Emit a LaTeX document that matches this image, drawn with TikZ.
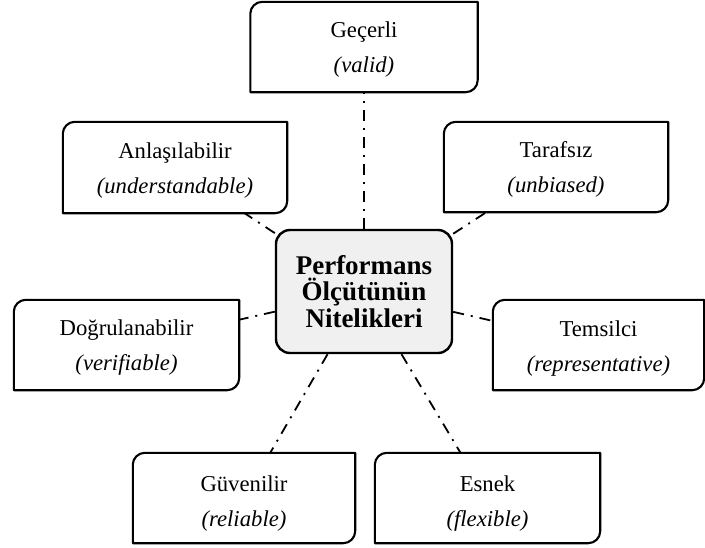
\documentclass[tikz,border=0pt]{standalone}
\usepackage{fontspec}
\setmainfont{Liberation Serif}
\usetikzlibrary{calc}
\newcommand{\lift}[1]{\rule{0pt}{#1pt}}
\begin{document}
\begin{tikzpicture}[x=1pt,y=-1pt,
  item/.style={minimum height=90pt, inner sep=0pt, align=center,
    font=\fontsize{22.7}{35}\selectfont},
  border/.style={line width=2.1pt, line join=round},
  hub/.style={draw, line width=2.4pt, rounded corners=14pt, fill=black!6,
    minimum width=176pt, minimum height=123pt, inner sep=0pt, align=center,
    font=\bfseries\fontsize{27}{26.5}\selectfont},
  conn/.style={line width=1.8pt, dash pattern=on 11pt off 7pt on 2pt off 7pt}
]
\useasboundingbox (0,0) rectangle (705,547);

\node[hub] (cen) at (364,291.5) {Performans\\Ölçütünün\\Nitelikleri};

\node[item, minimum width=227pt] (gec) at (364,47) {\lift{21}Geçerli\\\textit{(valid)}};
\node[item, minimum width=224pt, minimum height=91pt] (anl) at (175,167.5) {\lift{21}Anlaşılabilir\\\textit{(understandable)}};
\node[item, minimum width=224pt] (tar) at (556,167) {\lift{21}Tarafsız\\\textit{(unbiased)}};
\node[item, minimum width=225pt] (dog) at (126.5,345) {\lift{21}Doğrulanabilir\\\textit{(verifiable)}};
\node[item, minimum width=211pt] (tem) at (598.5,345) {\lift{23}Temsilci\\\textit{(representative)}};
\node[item, minimum width=222pt] (guv) at (244,498) {\lift{26}Güvenilir\\\textit{(reliable)}};
\node[item, minimum width=225pt] (esn) at (487.5,498) {\lift{26}Esnek\\\textit{(flexible)}};

\foreach \n in {gec,anl,tar,dog,tem,guv,esn}{
  \draw[border] ($(\n.north west)+(0,-12pt)$) arc[start angle=180,end angle=90,radius=12pt]
    -- (\n.north east) -- ($(\n.south east)+(0,12pt)$)
    arc[start angle=0,end angle=-90,radius=12pt] -- (\n.south west) -- cycle;
  \draw[conn] (cen) -- (\n);
}
\end{tikzpicture}
\end{document}
